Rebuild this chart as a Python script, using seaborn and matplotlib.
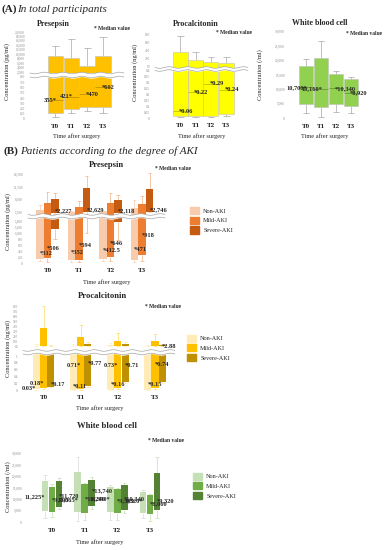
import matplotlib
matplotlib.use("Agg")
import matplotlib.pyplot as plt
from matplotlib.patches import Patch
import numpy as np
import seaborn as sns

W, H = 386, 550

TIMES = ["T0", "T1", "T2", "T3"]
GROUPS = ["Non-AKI", "Mild-AKI", "Severe-AKI"]

# (A) all participants: whisker low, box bottom, median, box top, whisker high
A_PSP_LO = [45, 120, 145, 120]
A_PSP_Q1 = [120, 200, 220, 220]
A_PSP_MED = [355, 421, 470, 602]
A_PSP_Q3 = [9100, 8500, 4800, 9400]
A_PSP_HI = [13600, 16700, 12800, 17600]

A_PCT_LO = [0.015, 0.015, 0.015, 0.025]
A_PCT_Q1 = [0.025, 0.025, 0.025, 0.035]
A_PCT_MED = [0.06, 0.22, 0.29, 0.24]
A_PCT_Q3 = [405, 207, 157, 140]
A_PCT_HI = [810, 413, 297, 280]

A_WBC_LO = [1850, 460, 2080, 1730]
A_WBC_Q1 = [4850, 4050, 5080, 4270]
A_WBC_MED = [10700, 10160, 10340, 8920]
A_WBC_Q3 = [18000, 20800, 15200, 13500]
A_WBC_HI = [20500, 26800, 16400, 14300]

# (B) by degree of AKI, one row per group (Non, Mild, Severe)
B_PSP_LO = [[86, 40, 60, 50], [53, 50, 60, 60], [804, 1013, 770, 1500]]
B_PSP_Q1 = [[142, 110, 130, 110], [170, 120, 220, 275], [1145, 1550, 1380, 1600]]
B_PSP_MED = [[312, 352, 412.5, 471], [506, 594, 646, 918], [2227, 2629, 2118, 2746]]
B_PSP_Q3 = [[2400, 1740, 1900, 3320], [5290, 3590, 5200, 4660], [6630, 10970, 6550, 10820]]
B_PSP_HI = [[4260, 1900, 2100, 6240], [9630, 6080, 9240, 8090], [9240, 15830, 8330, 17190]]

B_PCT_LO = [[0.01, 0.0, 0.0, 0.0], [0.03, 0.01, 0.03, 0.03], [0.08, 0.1, 0.2, 0.2]]
B_PCT_Q1 = [[0.02, 0.01, 0.01, 0.01], [0.05, 0.02, 0.05, 0.05], [0.1, 0.13, 0.23, 0.23]]
B_PCT_MED = [[0.03, 0.11, 0.16, 0.15], [0.18, 0.71, 0.73, 0.74], [0.17, 0.77, 0.71, 2.88]]
B_PCT_Q3 = [[12, 20, 30, 15], [380, 190, 115, 105], [12, 45, 45, 25]]
B_PCT_HI = [[60, 60, 80, 40], [830, 445, 285, 265], [40, 90, 85, 50]]

B_WBC_LO = [[1750, 570, 1140, 1750], [2450, 1000, 870, 570], [5680, 5680, 4060, 2000]]
B_WBC_Q1 = [[5070, 4370, 4370, 3930], [4630, 4060, 4060, 3500], [6690, 7120, 5240, 5500]]
B_WBC_MED = [[11225, 10065, 10390, 9320], [9795, 10240, 9395, 8060], [11720, 13740, 10340, 9320]]
B_WBC_Q3 = [[18200, 21980, 15400, 13100], [15400, 16740, 14550, 11930], [18050, 18350, 16170, 21400]]
B_WBC_HI = [[20700, 28670, 16300, 14110], [16600, 17300, 15000, 12500], [19230, 19670, 17000, 28400]]

# axis tick values
A_PSP_TICKS_UP = [2000, 4000, 6000, 8000, 10000, 12000, 14000, 16000, 18000, 20000]
A_PSP_TICKS_LO = [0, 100, 200, 300, 400, 500, 600, 700, 800]
A_PCT_TICKS_UP = [50, 250, 450, 650, 850]
A_PCT_TICKS_LO = [0, 0.05, 0.1, 0.15, 0.2, 0.25, 0.3, 0.35, 0.4]
WBC_TICKS = [0, 5000, 10000, 15000, 20000, 25000, 30000]
B_PSP_TICKS_UP = [1500, 6500, 11500, 16500]
B_PSP_TICKS_LO = [0, 200, 400, 600, 800, 1000, 1200, 1400]
B_PCT_TICKS_UP = [10, 110, 210, 310, 410, 510, 610, 710, 810]
B_PCT_TICKS_LO = [0, 0.2, 0.4, 0.6, 0.8, 1]

SERIF = ["Liberation Serif", "DejaVu Serif"]
TICK_GREY = "#8C8C8C"


def add_ax(fig, left, top, right, bottom):
    return fig.add_axes([left / W, 1 - bottom / H, (right - left) / W, (bottom - top) / H])


def make_axes(fig, box, c0, c3, ticks, ref, tick_fs=2.5):
    left, top, right, bottom = box
    ax = add_ax(fig, left, top, right, bottom)
    unit = (c3 - c0) / 3
    ax.set_xlim((left - c0) / unit, (right - c0) / unit)
    (va, ya), (vb, yb) = ref
    k = (vb - va) / (yb - ya)
    ax.set_ylim(va + (bottom - ya) * k, va + (top - ya) * k)
    ax.set_yticks(ticks, labels=[f"{t:,}" for t in ticks])
    ax.set_facecolor("none")
    for s in ax.spines.values():
        s.set_visible(False)
    ax.grid(False)
    ax.tick_params(axis="y", length=0, labelsize=tick_fs, labelcolor=TICK_GREY, pad=1.5)
    ax.set_xticks([])
    return ax, 1.0 / unit


def set_times(ax, pad=1.5):
    ax.set_xticks(range(len(TIMES)), labels=TIMES)
    ax.tick_params(axis="x", length=0, labelsize=5, pad=pad)
    for t in ax.get_xticklabels():
        t.set_fontweight("bold")


def draw_group(axes, x, lo, q1, med, q3, hi, color, whisker, width, cap, edge, med_line=None):
    x = np.asarray(x, float)
    lo, q1, med, q3, hi = (np.asarray(a, float) for a in (lo, q1, med, q3, hi))
    for ax in axes:
        ax.bar(x, q3 - q1, bottom=q1, width=width, color=color, edgecolor=edge, linewidth=0.4, zorder=2)
        ax.vlines(x, q3, hi, colors=whisker, lw=0.5, zorder=1)
        ax.vlines(x, lo, q1, colors=whisker, lw=0.5, zorder=1)
        ax.hlines(hi, x - cap, x + cap, colors=whisker, lw=0.5, zorder=1)
        ax.hlines(lo, x - cap, x + cap, colors=whisker, lw=0.5, zorder=1)
        if med_line:
            ax.hlines(med, x - width / 2, x + width / 2, colors=med_line, lw=0.5, zorder=3)


def label_medians(lower, upper, x, med, sides, dx, fs=4.6):
    top = lower.get_ylim()[1]
    for xi, v, side in zip(x, med, sides):
        ax = lower if (upper is None or v <= top) else upper
        if side == "L":
            ax.text(xi + dx, v, f"{v:,}*", ha="right", va="center", fontsize=fs,
                    fontweight="bold", zorder=4)
        else:
            ax.text(xi - dx, v, f"*{v:,}", ha="left", va="center", fontsize=fs,
                    fontweight="bold", zorder=4)


def wave(ov, x0, x1, y0, y1, n=5):
    xs = np.linspace(x0, x1, 300)
    w = 0.8 * np.sin((xs - x0) / (x1 - x0) * 2 * np.pi * n)
    ov.fill_between(xs, y0 + w - 0.4, y1 + w + 0.4, color="white", lw=0, zorder=5)
    ov.plot(xs, y0 + w, color="#A6A6A6", lw=0.5, zorder=6)
    ov.plot(xs, y1 + w, color="#A6A6A6", lw=0.5, zorder=6)


def panel_text(ov, title, title_xy, median_xy, ylabel, ylabel_xy, xlabel_xy, title_fs=6):
    ov.text(*title_xy, title, ha="center", va="center", fontsize=title_fs, fontweight="bold")
    ov.text(*median_xy, "* Median value", ha="left", va="center", fontsize=4, fontweight="bold")
    ov.text(*ylabel_xy, ylabel, ha="center", va="center", fontsize=4.6, rotation=90)
    ov.text(*xlabel_xy, "Time after surgery", ha="center", va="center", fontsize=4.6)


def add_legend(ax, fig, colors, x_px, y_px):
    ax.legend(handles=[Patch(color=c) for c in colors], labels=GROUPS, loc="upper left",
              bbox_to_anchor=(x_px / W, 1 - y_px / H), bbox_transform=fig.transFigure,
              frameon=False, fontsize=4.4, handlelength=1.45, handleheight=1.45,
              labelspacing=0.4, handletextpad=0.7, borderpad=0, borderaxespad=0)


def main() -> None:
    sns.set_theme(style="white")
    plt.rcParams["font.family"] = SERIF

    fig = plt.figure(figsize=(W / 100, H / 100), dpi=100)
    fig.patch.set_facecolor("white")
    x = np.arange(len(TIMES))
    grey = "#A6A6A6"

    # ---------- (A) Presepsin ----------
    up, _ = make_axes(fig, (27, 28, 124, 73), 55.2, 103, A_PSP_TICKS_UP, ((2000, 72), (20000, 32)))
    lo, dx = make_axes(fig, (27, 77, 124, 121), 55.2, 103, A_PSP_TICKS_LO, ((0, 119), (800, 77)))
    set_times(lo, pad=2)
    draw_group([up, lo], x, A_PSP_LO, A_PSP_Q1, A_PSP_MED, A_PSP_Q3, A_PSP_HI,
               "#FFC000", grey, 0.95, 0.22, "#BFBFBF", med_line="#B58800")
    label_medians(lo, up, x, A_PSP_MED, "LLRR", 1.5 * dx)

    # ---------- (A) Procalcitonin ----------
    up2, _ = make_axes(fig, (152, 30, 250, 67.5), 180.2, 226.3, A_PCT_TICKS_UP, ((50, 66.7), (850, 34.3)))
    lo2, dx2 = make_axes(fig, (152, 70, 250, 120), 180.2, 226.3, A_PCT_TICKS_LO, ((0, 118.5), (0.4, 70.5)))
    set_times(lo2, pad=2)
    draw_group([up2, lo2], x, A_PCT_LO, A_PCT_Q1, A_PCT_MED, A_PCT_Q3, A_PCT_HI,
               "#FFFF00", grey, 0.97, 0.22, "#BFBFBF", med_line="#B5B500")
    label_medians(lo2, up2, x, A_PCT_MED, "RRRR", 1.5 * dx2)

    # ---------- (A) White blood cell ----------
    ax3, dx3 = make_axes(fig, (287, 28, 382, 121), 306, 351, WBC_TICKS, ((0, 118.3), (30000, 31.7)))
    set_times(ax3, pad=2)
    draw_group([ax3], x, A_WBC_LO, A_WBC_Q1, A_WBC_MED, A_WBC_Q3, A_WBC_HI,
               "#92D050", grey, 0.95, 0.22, "#BFBFBF", med_line="#5E8F2C")
    label_medians(ax3, None, x, A_WBC_MED, "LLRR", 1.5 * dx3)

    # ---------- (B) Presepsin ----------
    b_up, _ = make_axes(fig, (25, 169, 165, 214.5), 47.5, 142, B_PSP_TICKS_UP, ((1500, 212.3), (16500, 174.3)))
    b_lo, bdx = make_axes(fig, (25, 218, 165, 265), 47.5, 142, B_PSP_TICKS_LO, ((0, 263.3), (1400, 221)))
    set_times(b_lo, pad=2)
    psp_cols = ["#F8CBAD", "#ED7D31", "#C55A11"]
    psp_wh = ["#F8CBAD", "#F4B183", "#F4B183"]
    for g, off in enumerate([-0.24, 0.0, 0.24]):
        draw_group([b_up, b_lo], x + off, B_PSP_LO[g], B_PSP_Q1[g], B_PSP_MED[g], B_PSP_Q3[g],
                   B_PSP_HI[g], psp_cols[g], psp_wh[g], 0.23, 0.05, "none")
        label_medians(b_lo, b_up, x + off, B_PSP_MED[g], "RRRR", 0.3 * bdx)
    add_legend(b_lo, fig, psp_cols, 190, 207)

    # ---------- (B) Procalcitonin ----------
    c_up, _ = make_axes(fig, (20, 303, 175, 350.5), 43.5, 155, B_PCT_TICKS_UP, ((10, 346), (810, 307)))
    c_lo, cdx = make_axes(fig, (20, 354, 175, 392), 43.5, 155, B_PCT_TICKS_LO, ((0, 390), (1, 356)))
    set_times(c_lo, pad=2.5)
    pct_cols = ["#FFEBB5", "#FFC000", "#BF9000"]
    pct_wh = ["#FFEBB5", "#FFD966", "#FFE699"]
    pct_sides = ["LRRR", "LLLR", "RRRR"]
    for g, off in enumerate([-0.195, 0.0, 0.195]):
        draw_group([c_up, c_lo], x + off, B_PCT_LO[g], B_PCT_Q1[g], B_PCT_MED[g], B_PCT_Q3[g],
                   B_PCT_HI[g], pct_cols[g], pct_wh[g], 0.19, 0.05, "none")
        label_medians(c_lo, c_up, x + off, B_PCT_MED[g], pct_sides[g], 0.3 * cdx)
    add_legend(c_lo, fig, pct_cols, 187, 334.5)

    # ---------- (B) White blood cell ----------
    w_ax, wdx = make_axes(fig, (24, 450, 175, 524), 52, 150, WBC_TICKS, ((0, 522.3), (30000, 453.7)))
    set_times(w_ax, pad=3)
    wbc_cols = ["#C5E0B4", "#70AD47", "#548235"]
    wbc_wh = ["#D9D9D9", "#C5E0B4", "#C5E0B4"]
    wbc_sides = ["LLLL", "RRRR", "RRRR"]
    for g, off in enumerate([-0.215, 0.0, 0.215]):
        draw_group([w_ax], x + off, B_WBC_LO[g], B_WBC_Q1[g], B_WBC_MED[g], B_WBC_Q3[g],
                   B_WBC_HI[g], wbc_cols[g], wbc_wh[g], 0.21, 0.05, "none")
        label_medians(w_ax, None, x + off, B_WBC_MED[g], wbc_sides[g], 0.3 * wdx)
    add_legend(w_ax, fig, wbc_cols, 193, 472.5)

    # ---------- overlay: breaks and free text in pixel coordinates ----------
    ov = fig.add_axes([0, 0, 1, 1], zorder=10)
    ov.set_xlim(0, W)
    ov.set_ylim(H, 0)
    ov.set_axis_off()

    wave(ov, 30, 124, 73, 77)
    wave(ov, 155, 248, 67.5, 70.5)
    wave(ov, 28, 165, 214.5, 218, n=7)
    wave(ov, 23, 175, 350.5, 354, n=8)

    ov.text(2, 9.5, "(A)", ha="left", va="center", fontsize=8, fontweight="bold")
    ov.text(17.5, 9.5, "In total participants", ha="left", va="center", fontsize=8, style="italic")
    ov.text(4, 151, "(B)", ha="left", va="center", fontsize=8, fontweight="bold")
    ov.text(20.5, 151, "Patients according to the degree of AKI", ha="left", va="center",
            fontsize=8, style="italic")

    panel_text(ov, "Presepsin", (53.5, 24), (94, 28.5), "Concentration (pg/ml)", (7.5, 72),
               (77, 136), title_fs=5.8)
    panel_text(ov, "Procalcitonin", (195.5, 24), (216.5, 32.5), "Concentration (ng/ml)", (135, 72),
               (201.5, 136), title_fs=5.8)
    panel_text(ov, "White blood cell", (319.5, 23), (345.5, 33.5), "Concentration (/ml)", (260, 75),
               (325, 136), title_fs=5.8)
    panel_text(ov, "Presepsin", (106, 165), (155, 168), "Concentration (pg/ml)", (8, 222),
               (106.5, 282), title_fs=6.2)
    panel_text(ov, "Procalcitonin", (102, 295.5), (145, 306), "Concentration (ng/ml)", (8, 348),
               (100, 408), title_fs=6.2)
    panel_text(ov, "White blood cell", (107, 426), (148, 441), "Concentration (/ml)", (8, 487),
               (100, 542), title_fs=6.2)

    fig.savefig("out.png", dpi=100, facecolor="white")
    plt.close(fig)


if __name__ == "__main__":
    main()
